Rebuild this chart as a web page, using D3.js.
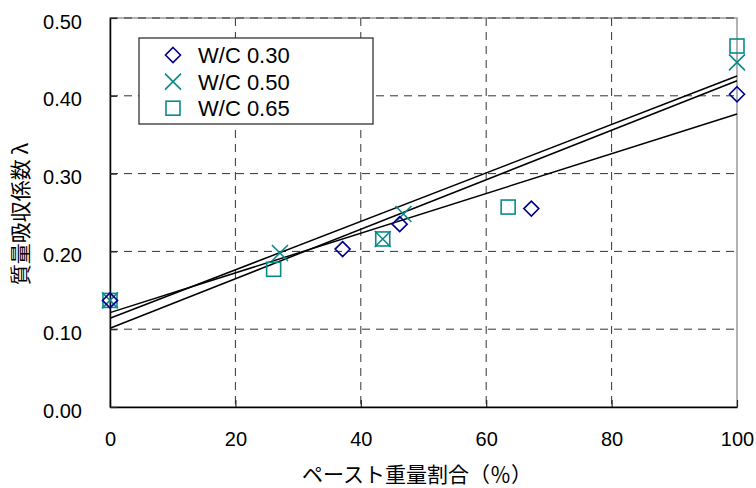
<!DOCTYPE html>
<html><head><meta charset="utf-8">
<script src="https://cdn.jsdelivr.net/npm/d3@7"></script>
<style>body{margin:0;background:#fff}svg{display:block}text{font-family:"Liberation Sans",Arial,sans-serif;fill:#000}</style>
</head><body><svg id="c" width="756" height="488"></svg>
<script>
// ---- data ----
const seriesNames = ["W/C 0.30", "W/C 0.50", "W/C 0.65"];
const wc030X = [0, 37.1, 46.2, 67.2, 100];
const wc030Y = [0.137, 0.203, 0.235, 0.255, 0.402];
const wc050X = [0, 27.1, 43.5, 46.8, 100];
const wc050Y = [0.137, 0.198, 0.216, 0.248, 0.443];
const wc065X = [0, 26.1, 43.5, 63.5, 100];
const wc065Y = [0.137, 0.177, 0.216, 0.257, 0.464];
// trend lines: value at x=0 and at x=100
const trendStart = [0.1213, 0.1140, 0.1012];
const trendEnd = [0.3766, 0.4254, 0.4194];
const xTicks = [0, 20, 40, 60, 80, 100];
const yTicks = [0.00, 0.10, 0.20, 0.30, 0.40, 0.50];
const xLabel = "ペースト重量割合（％）";
const yLabel = "質量吸収係数 λ";

const svg = d3.select("#c");
const L = 110, R = 737, T = 18, B = 407;
const x = d3.scaleLinear().domain([0, 100]).range([L, R]);
const y = d3.scaleLinear().domain([0, 0.5]).range([B, T]);

// plot border (gray)
svg.append("rect").attr("x", L).attr("y", T).attr("width", R - L).attr("height", B - T)
  .attr("fill", "none").attr("stroke", "#999").attr("stroke-width", 1.5);

// gridlines
const grid = svg.append("g").attr("stroke", "#333").attr("stroke-width", 1).attr("stroke-dasharray", "8,6");
yTicks.filter(v => v > 0).forEach(v => grid.append("line").attr("x1", L).attr("x2", R).attr("y1", y(v)).attr("y2", y(v)));
xTicks.filter(v => v > 0 && v < 100).forEach(v => grid.append("line").attr("y1", T).attr("y2", B).attr("x1", x(v)).attr("x2", x(v)));

// axes
const xAxis = d3.axisBottom(x).tickValues(xTicks).tickSizeInner(-7).tickSizeOuter(0).tickPadding(25).tickFormat(d3.format("d"));
const gx = svg.append("g").attr("transform", `translate(0,${B})`).call(xAxis);
const yAxis = d3.axisLeft(y).tickValues(yTicks).tickSizeInner(-7).tickSizeOuter(0).tickPadding(28).tickFormat(d3.format(".2f"));
const gy = svg.append("g").attr("transform", `translate(${L},0)`).call(yAxis);
[gx, gy].forEach(g => {
  g.select(".domain").attr("stroke", "#000").attr("stroke-width", 1.5);
  g.selectAll(".tick line").attr("stroke", "#222").attr("stroke-width", 1.2);
  g.selectAll("text").style("font-size", "20px").attr("fill", "#000");
});
gy.selectAll("text").attr("dy", "0.5em");

// trend lines
const lineG = svg.append("g");
trendStart.forEach((s, i) => {
  lineG.append("line").attr("x1", x(0)).attr("x2", x(100)).attr("y1", y(s)).attr("y2", y(trendEnd[i]))
    .attr("stroke", "#000").attr("stroke-width", 1.5);
});

// markers
const navy = "#000090", teal = "#0a8a8a";
function diamond(g, cx, cy) {
  g.append("path").attr("d", `M${cx},${cy - 7.5}L${cx + 7.5},${cy}L${cx},${cy + 7.5}L${cx - 7.5},${cy}Z`)
    .attr("fill", "none").attr("stroke", navy).attr("stroke-width", 1.6);
}
function cross(g, cx, cy) {
  g.append("path").attr("d", `M${cx - 8},${cy - 8}L${cx + 8},${cy + 8}M${cx - 8},${cy + 8}L${cx + 8},${cy - 8}`)
    .attr("fill", "none").attr("stroke", teal).attr("stroke-width", 1.6);
}
function square(g, cx, cy) {
  g.append("rect").attr("x", cx - 7).attr("y", cy - 7).attr("width", 14).attr("height", 14)
    .attr("fill", "none").attr("stroke", teal).attr("stroke-width", 1.6);
}
const mg = svg.append("g");
wc065X.forEach((v, i) => square(mg, x(v), y(wc065Y[i])));
wc050X.forEach((v, i) => cross(mg, x(v), y(wc050Y[i])));
wc030X.forEach((v, i) => diamond(mg, x(v), y(wc030Y[i])));

// legend
const lg = svg.append("g");
lg.append("rect").attr("x", 139).attr("y", 38).attr("width", 234).attr("height", 86)
  .attr("fill", "#fff").attr("stroke", "#222").attr("stroke-width", 1.2);
const drawers = [diamond, cross, square];
seriesNames.forEach((n, i) => {
  const cy = 55 + i * 26.6;
  drawers[i](lg, 173, cy);
  lg.append("text").attr("x", 198).attr("y", cy).attr("dy", "0.36em").style("font-size", "22px").text(n);
});

// axis titles
svg.append("text").attr("x", 417).attr("y", 474).attr("dy", "0.36em").attr("text-anchor", "middle")
  .style("font-size", "21px").style("font-family", "'Noto Sans CJK JP',sans-serif").text(xLabel);
svg.append("text").attr("transform", "translate(20,214) rotate(-90)").attr("dy", "0.36em").attr("text-anchor", "middle")
  .style("font-size", "21px").style("font-family", "'Noto Sans CJK JP',sans-serif").text(yLabel);
</script></body></html>
